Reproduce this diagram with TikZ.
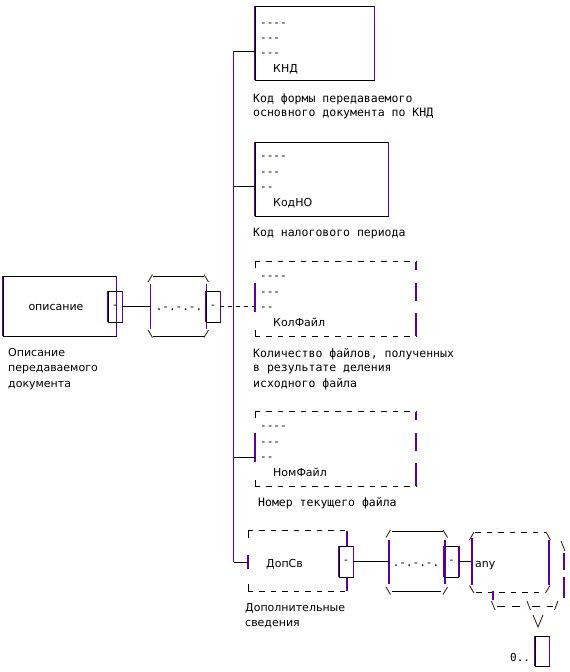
\documentclass[tikz,border=0pt]{standalone}
\usepackage{fontspec}
\setmainfont{DejaVu Sans}
\newfontfamily\monof{DejaVu Sans Mono}
\definecolor{vio}{RGB}{96,0,150}
\definecolor{sla}{RGB}{60,40,30}
\begin{document}
\begin{tikzpicture}[x=1pt,y=-1pt,
  hl/.style={draw=black,line width=0.9pt},
  vl/.style={draw=vio,line width=1.2pt},
  sl/.style={draw=sla,line width=0.9pt},
  dl/.style={draw=black,line width=0.9pt,dash pattern=on 5.5pt off 6pt},
  dv/.style={draw=vio,line width=1.2pt},
  ebox/.style={draw=black,line width=0.9pt,inner sep=0pt},
  portbox/.style={draw=black,line width=0.9pt,minimum width=14pt,minimum height=31pt,inner sep=0pt,font=\monof\fontsize{10.5}{12}\selectfont},
  mt/.style={font=\monof\fontsize{11.5}{14}\selectfont,anchor=base west,inner sep=0pt},
  rt/.style={font=\monof\fontsize{11}{13}\selectfont,anchor=base west,inner sep=0pt},
  st/.style={font=\fontsize{11}{14}\selectfont,anchor=base west,inner sep=0pt},
]
\useasboundingbox (0,0) rectangle (570,672);

% ---------- root element ----------
\node[ebox,minimum width=113pt,minimum height=60pt] (opis) at (59.5,306) {};
\node[st,anchor=base] (opisT) at (56,310) {описание};
\draw[vl] (opis.north west) -- (opis.south west) (opis.north east) -- (opis.south east);
\node[portbox] (p1) at (115,306.5) {-};
\draw[vl] (p1.north west) -- (p1.south west) (p1.north east) -- (p1.south east);
\node[st] (opisL1) at (8,356) {Описание};
\node[st] (opisL2) at (8,371) {передаваемого};
\node[st] (opisL3) at (8,387) {документа};

% ---------- sequence 1 ----------
\coordinate (s1in) at (150.5,306.5);
\draw[sl] (148,282) -- (152.5,274.5);
\draw[hl] (153,276) -- (204,276);
\draw[sl] (204,274.5) -- (208.5,282);
\draw[vl] (150.5,284) -- (150.5,329);
\draw[vl] (206.5,284) -- (206.5,329);
\draw[sl] (148,330) -- (152.5,337.5);
\draw[hl] (153,336) -- (204,336);
\draw[sl] (204,337.5) -- (208.5,330);
\node[rt,anchor=base] (s1dots) at (179,310) {.-.-.-.};
\node[portbox] (p2) at (213,306.5) {-};
\draw[vl] (p2.north west) -- (p2.south west) (p2.north east) -- (p2.south east);
\draw[hl] (p1.east) -- (s1in);

% ---------- bus ----------
\coordinate (busTop) at (233.5,51);
\coordinate (busB) at (233.5,186);
\coordinate (busD) at (233.5,457);
\coordinate (busBot) at (233.5,562);
\draw[vl] (busTop) -- (busBot);

% ---------- КНД ----------
\node[ebox,minimum width=119pt,minimum height=74pt] (knd) at (314.5,43) {};
\draw[vl] (knd.north west) -- (knd.south west) (knd.north east) -- (knd.south east);
\node[rt] (kndr1) at (260,26.5) {----};
\node[rt] (kndr2) at (260,41) {---};
\node[rt] (kndr3) at (260,56) {---};
\node[st] (kndn) at (273,72) {КНД};
\coordinate (kndIn) at (255,51);
\draw[hl] (busTop) -- (kndIn);
\node[mt] (kndL1) at (253,102) {Код формы передаваемого};
\node[mt] (kndL2) at (253,116.5) {основного документа по КНД};

% ---------- КодНО ----------
\node[ebox,minimum width=133pt,minimum height=74pt] (kodno) at (321.5,179) {};
\draw[vl] (kodno.north west) -- (kodno.south west) (kodno.north east) -- (kodno.south east);
\node[rt] (kodnor1) at (260,159.5) {----};
\node[rt] (kodnor2) at (260,175.5) {---};
\node[rt] (kodnor3) at (260,190.5) {--};
\node[st] (kodnon) at (273,206) {КодНО};
\coordinate (kodnoIn) at (255,186);
\draw[hl] (busB) -- (kodnoIn);
\node[mt] (kodnoL) at (253,236) {Код налогового периода};

% ---------- КолФайл (optional) ----------
\node[inner sep=0pt,minimum width=161pt,minimum height=74pt] (kol) at (335.5,299) {};
\draw[dl] (kol.north west) -- (kol.north east);
\draw[dl] (kol.south west) -- (kol.south east);
\draw[hl] (255,262) -- (255,268) (255,330) -- (255,336);
\draw[vl] (255,283) -- (255,312);
\draw[dv] (416,262) -- (416,270) (416,283) -- (416,301) (416,313) -- (416,336);
\node[rt] (kolr1) at (260,279.5) {----};
\node[rt] (kolr2) at (260,295.5) {---};
\node[rt] (kolr3) at (260,310.5) {--};
\node[st] (koln) at (273,326) {КолФайл};
\coordinate (kolIn) at (255,306.5);
\draw[hl,dash pattern=on 4pt off 4pt] (p2.east) -- (kolIn);
\node[mt] (kolL1) at (253,357) {Количество файлов, полученных};
\node[mt] (kolL2) at (253,371.5) {в результате деления};
\node[mt] (kolL3) at (253,387) {исходного файла};

% ---------- НомФайл (optional) ----------
\node[inner sep=0pt,minimum width=161pt,minimum height=74pt] (nom) at (335.5,449) {};
\draw[dl] (nom.north west) -- (nom.north east);
\draw[dl] (nom.south west) -- (nom.south east);
\draw[hl] (255,412) -- (255,418) (255,480) -- (255,486);
\draw[vl] (255,433) -- (255,462);
\draw[dv] (416,412) -- (416,420) (416,433) -- (416,451) (416,463) -- (416,486);
\node[rt] (nomr1) at (260,429.5) {----};
\node[rt] (nomr2) at (260,445.5) {---};
\node[rt] (nomr3) at (260,460.5) {--};
\node[st] (nomn) at (273,476) {НомФайл};
\coordinate (nomIn) at (255,457);
\draw[hl] (busD) -- (nomIn);
\node[mt] (nomL) at (258,506) {Номер текущего файла};

% ---------- ДопСв (optional, complex) ----------
\node[inner sep=0pt,minimum width=99pt,minimum height=60pt] (dop) at (297.5,561) {};
\draw[dl] (dop.north west) -- (dop.north east);
\draw[dl] (dop.south west) -- (dop.south east);
\draw[hl] (248,531) -- (248,538) (248,584) -- (248,591);
\draw[vl] (248,555) -- (248,569);
\draw[vl] (347,531) -- (347,546) (347,577) -- (347,591);
\node[st] (dopn) at (266,567) {ДопСв};
\coordinate (dopIn) at (248,562);
\draw[hl] (busBot) -- (dopIn);
\node[portbox] (p3) at (346,561.5) {-};
\draw[vl] (p3.north west) -- (p3.south west) (p3.north east) -- (p3.south east);
\node[st] (dopL1) at (245,611) {Дополнительные};
\node[st] (dopL2) at (245,626) {сведения};

% ---------- sequence 2 ----------
\coordinate (s2in) at (389,561.5);
\draw[sl] (386,537.5) -- (390.5,530);
\draw[hl] (392,531) -- (443,531);
\draw[sl] (443,530) -- (447.5,537.5);
\draw[vl] (389,540) -- (389,584);
\draw[vl] (445,540) -- (445,584);
\draw[sl] (386,587) -- (390.5,594.5);
\draw[hl] (392,591) -- (441,591);
\draw[sl] (443,594.5) -- (447.5,587);
\node[rt,anchor=base] (s2dots) at (416,566) {.-.-.-.};
\node[portbox] (p4) at (451.5,561.5) {-};
\draw[vl] (p4.north west) -- (p4.south west) (p4.north east) -- (p4.south east);
\draw[hl] (p3.east) -- (s2in);

% ---------- any ----------
\coordinate (anyIn) at (472,561.5);
\draw[hl] (p4.east) -- (anyIn);
\draw[sl] (469.5,540) -- (474,532);
\draw[dl] (475,532) -- (546,532);
\draw[sl] (546,532) -- (550.5,540);
\draw[vl] (472,538) -- (472,585);
\draw[vl] (549,540) -- (549,585);
\draw[sl] (469.5,585.5) -- (474,593);
\draw[dl] (476,592) -- (545,592);
\draw[sl] (545.5,593) -- (550,585.5);
\node[st] (anyn) at (475,567) {any};
% shadow of repeated any
\draw[sl] (561,541) -- (565,551);
\draw[vl] (564,553) -- (564,570) (564,577) -- (564,598);
\draw[vl] (493,591) -- (493,600);
\draw[sl] (491.5,601) -- (495,610);
\draw[hl] (497,606) -- (505,606) (512,606) -- (520,606);
\draw[sl] (527,601) -- (530.5,610);
\draw[hl] (532,606) -- (540,606) (547,606) -- (553,606);
\draw[sl] (554.5,610) -- (558,601);
\draw[sl] (533,615) -- (538,627) -- (543,615);
\node[rt] (occ) at (510,661) {0..};
\node[ebox,minimum width=14pt,minimum height=30pt] (occbox) at (542,651) {};
\draw[vl] (occbox.north west) -- (occbox.south west) (occbox.north east) -- (occbox.south east);
\end{tikzpicture}
\end{document}
